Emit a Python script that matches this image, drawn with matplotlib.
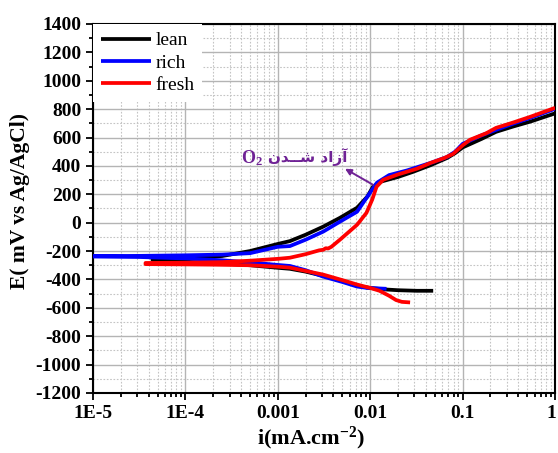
import matplotlib
matplotlib.use("Agg")
import matplotlib.pyplot as plt
import matplotlib.transforms as mtransforms
from matplotlib.ticker import FixedLocator, MultipleLocator, LogLocator, FixedFormatter, NullFormatter

plt.rcParams['font.family'] = 'Liberation Serif'
plt.rcParams['axes.unicode_minus'] = False
plt.rcParams['mathtext.fontset'] = 'custom'
plt.rcParams['mathtext.rm'] = 'Liberation Serif:bold'
plt.rcParams['mathtext.it'] = 'Liberation Serif:bold'
plt.rcParams['mathtext.bf'] = 'Liberation Serif:bold'

# polarization curves: cathodic branch (from high current down to Ecorr) then anodic branch
lean_i = [4.8e-2, 3.2e-2, 2.0e-2, 1.4e-2, 1.0e-2, 7.2e-3, 5.0e-3, 3.1e-3, 2.0e-3, 1.35e-3, 1.0e-3,
          5.0e-4, 2.5e-4, 1.0e-4, 5.0e-5, 4.4e-5,
          4.4e-5, 1.0e-4, 2.5e-4, 5.0e-4, 1.0e-3, 1.35e-3, 2.0e-3, 3.1e-3, 4.7e-3, 7.2e-3, 9.3e-3,
          1.07e-2, 1.32e-2, 2.0e-2, 2.9e-2, 4.5e-2, 6.8e-2, 8.3e-2, 0.1, 0.16, 0.23, 0.35, 0.54, 1.0]
lean_e = [-480, -480, -476, -470, -460, -445, -410, -375, -345, -325, -318,
          -300, -288, -275, -266, -262,
          -258, -252, -235, -200, -150, -130, -85, -28, 34, 105, 183,
          253, 290, 322, 358, 405, 456, 490, 530, 590, 640, 677, 712, 770]

rich_i = [1.5e-2, 1.2e-2, 9.3e-3, 7.2e-3, 5.0e-3, 3.1e-3, 2.0e-3, 1.35e-3, 1.0e-3, 5.0e-4,
          2.5e-4, 1.0e-4, 3.2e-5, 8.0e-6,
          8.0e-6, 3.2e-5, 1.0e-4, 2.5e-4, 5.0e-4, 1.0e-3, 1.35e-3, 2.0e-3, 3.1e-3, 4.7e-3,
          7.2e-3, 9.3e-3, 1.18e-2, 1.6e-2, 2.5e-2, 4.5e-2, 6.8e-2, 8.3e-2, 0.1, 0.16, 0.23, 0.35,
          0.54, 1.0]
rich_e = [-466, -463, -460, -450, -418, -380, -335, -305, -298, -280,
          -265, -252, -242, -238,
          -236, -234, -230, -225, -215, -170, -165, -120, -63, 7,
          77, 183, 281, 335, 368, 421, 463, 500, 555, 615, 654, 697, 738, 802]

fresh_i = [2.7e-2, 2.2e-2, 1.9e-2, 1.6e-2, 1.26e-2, 1.0e-2, 7.2e-3, 5.0e-3, 3.1e-3, 2.0e-3,
           1.35e-3, 1.0e-3, 5.0e-4, 2.0e-4, 1.0e-4, 3.7e-5,
           3.7e-5, 1.0e-4, 2.5e-4, 5.0e-4, 1.0e-3, 1.35e-3, 2.0e-3, 2.8e-3, 3.1e-3, 3.3e-3,
           3.5e-3, 3.8e-3, 4.7e-3, 7.2e-3, 9.1e-3, 1.05e-2, 1.17e-2, 1.38e-2, 2.0e-2, 3.2e-2,
           4.5e-2, 6.3e-2, 7.9e-2, 0.1, 0.12, 0.18, 0.23, 0.35, 0.54, 1.0]
fresh_e = [-562, -558, -545, -515, -480, -460, -436, -405, -366, -340,
           -317, -310, -300, -296, -294, -292,
           -284, -282, -278, -268, -255, -247, -222, -195, -191, -180,
           -182, -170, -120, -15, 69, 162, 253, 302, 340, 380,
           421, 455, 485, 545, 584, 630, 668, 705, 746, 809]

series = [("lean", lean_i, lean_e, "black"),
          ("rich", rich_i, rich_e, "#0000ff"),
          ("fresh", fresh_i, fresh_e, "#ff0000")]

x_ticks = [1e-5, 1e-4, 1e-3, 1e-2, 1e-1, 1]
x_labels = ["1E-5", "1E-4", "0.001", "0.01", "0.1", "1"]

fig = plt.figure(figsize=(5.58, 4.53), dpi=100)
ax = fig.add_axes([0.1667, 0.1325, 0.828, 0.8146])

for name, cur, pot, col in series:
    ax.plot(cur, pot, color=col, lw=2.7, label=name, solid_capstyle='butt', zorder=3)

ax.set_xscale('log')
ax.set_xlim(1e-5, 1)
ax.set_ylim(-1200, 1400)

ax.xaxis.set_major_locator(FixedLocator(x_ticks))
ax.xaxis.set_major_formatter(FixedFormatter(x_labels))
ax.xaxis.set_minor_locator(LogLocator(base=10, subs=range(2, 10), numticks=20))
ax.xaxis.set_minor_formatter(NullFormatter())
ax.yaxis.set_major_locator(MultipleLocator(200))
ax.yaxis.set_minor_locator(MultipleLocator(100))

ax.grid(which='major', color='#b4b4b4', lw=1.0, ls='-', zorder=0)
ax.grid(which='minor', color='#c4c4c4', lw=0.8, ls=(0, (1.5, 1.5)), zorder=0)
ax.set_axisbelow(True)

ax.tick_params(which='both', direction='out', top=False, right=False, width=1.3, colors='black')
ax.tick_params(which='major', length=5, labelsize=14)
ax.tick_params(which='minor', length=3)
for lab in ax.get_xticklabels() + ax.get_yticklabels():
    lab.set_fontweight('bold')
for sp in ax.spines.values():
    sp.set_linewidth(1.5)

# keep the last x label inside the figure edge
last = ax.get_xticklabels()[-1]
last.set_transform(last.get_transform() + mtransforms.ScaledTranslation(-3 / 72, 0, fig.dpi_scale_trans))

ax.set_xlabel(r"i(mA.cm$^{-2}$)", fontsize=16, fontweight='bold')
ax.xaxis.set_label_coords(0.472, -0.085)
ax.set_ylabel("E( mV vs Ag/AgCl)", fontsize=15.5, fontweight='bold')
ax.yaxis.set_label_coords(-0.137, 0.52)

leg = ax.legend(loc='upper left', fontsize=14, frameon=True, fancybox=False,
                borderaxespad=0.0, borderpad=0.4, handlelength=2.6, handletextpad=0.2,
                labelspacing=0.25)
leg.get_frame().set_edgecolor('none')
leg.get_frame().set_facecolor('white')
leg.get_frame().set_alpha(1.0)
for ln in leg.get_lines():
    ln.set_linewidth(2.7)

# "O2 release" note with arrow pointing at the knee of the anodic curves
purple = '#6f2295'
persian = "\uFEE5\uFEAA\u0640\u0640\uFEB7 \uFEA9\uFE8D\uFEAF\uFE81"
ax.text(10 ** -3.16, 457, r"O$_2$", color=purple, fontsize=13, ha='right', va='center',
        fontweight='bold', zorder=5)
ax.text(10 ** -3.11, 462, persian, color=purple, fontsize=11, ha='left', va='center',
        fontweight='bold', family=['DejaVu Sans'], zorder=5)
ax.annotate("", xy=(10 ** -2.273, 380), xytext=(10 ** -1.97, 267),
            arrowprops=dict(arrowstyle='-|>', color=purple, lw=1.4, mutation_scale=9,
                            shrinkA=0, shrinkB=0), zorder=5)

fig.savefig("out.png", dpi=100)
